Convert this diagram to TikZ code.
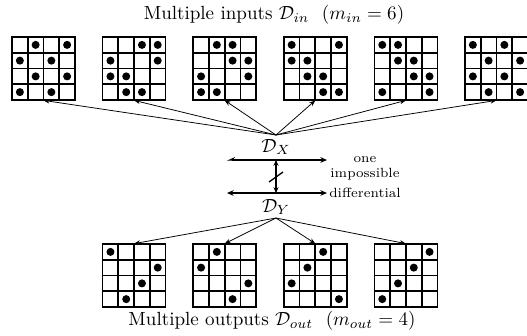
\documentclass[tikz,border=0pt]{standalone}
\usetikzlibrary{arrows.meta,calc}
\tikzset{
  gridline/.style={line width=0.9pt, line cap=rect},
  gridbox/.style={inner sep=0pt, minimum size=33.075pt},
  dotfill/.style={fill=black},
  arr/.style={line width=0.4pt, -{Stealth[length=3.2pt,width=2.4pt]}},
  hline/.style={line width=0.7pt},
  lbl/.style={inner sep=1pt},
  note/.style={font=\scriptsize, inner sep=0pt, align=center}
}
\newcommand{\mygrid}[4]{%
  \node[gridbox] (#1) at (#2+31.5,#3+31.5) {};
  \foreach \k in {0,...,4}{
    \draw[gridline] (#2+\k*15.75,#3) -- (#2+\k*15.75,#3+63);
    \draw[gridline] (#2,#3+\k*15.75) -- (#2+63,#3+\k*15.75);
  }
  \foreach \r/\c in {#4}{
    \fill[dotfill] (#2+\c*15.75-7.875,#3+\r*15.75-7.875) circle[radius=2.1pt];
  }
}
\begin{document}
\begin{tikzpicture}[x=0.525pt,y=-0.525pt]
\useasboundingbox (0,0) rectangle (527,335);
% titles
\node[lbl] (tin) at (274,15) {Multiple inputs $\mathcal{D}_{in}$\ \ $(m_{in}=6)$};
\node[lbl] (tout) at (272,321) {Multiple outputs $\mathcal{D}_{out}$\ \ $(m_{out}=4)$};
% top grids
\mygrid{t1}{12}{37}{1/2,1/4,2/1,2/3,3/2,3/4,4/1,4/3}
\mygrid{t2}{102.6}{37}{1/3,1/4,2/1,2/4,3/1,3/2,4/2,4/3}
\mygrid{t3}{193.2}{37}{1/2,1/3,2/3,2/4,3/1,3/4,4/1,4/2}
\mygrid{t4}{283.8}{37}{1/1,1/4,2/1,2/2,3/2,3/3,4/3,4/4}
\mygrid{t5}{374.4}{37}{1/1,1/2,2/2,2/3,3/3,3/4,4/1,4/4}
\mygrid{t6}{465}{37}{1/1,1/3,2/2,2/4,3/1,3/3,4/2,4/4}
% bottom grids
\mygrid{b1}{102.6}{244}{1/1,2/4,3/3,4/2}
\mygrid{b2}{193.2}{244}{1/2,2/1,3/4,4/3}
\mygrid{b3}{283.8}{244}{1/3,2/2,3/1,4/4}
\mygrid{b4}{374.4}{244}{1/4,2/3,3/2,4/1}
% middle
\node[lbl] (dx) at (276,147) {$\mathcal{D}_X$};
\node[lbl] (dy) at (276,207) {$\mathcal{D}_Y$};
\coordinate (cx) at (276,135);
\coordinate (cy) at (276,218);
\foreach \g in {t1,t2,t3,t4,t5,t6}{\draw[arr] (cx) -- (\g.south);}
\foreach \g in {b1,b2,b3,b4}{\draw[arr] (cy) -- (\g.north);}
\coordinate (l1a) at (227,160);
\coordinate (l1b) at (327,160);
\coordinate (l2a) at (227,193);
\coordinate (l2b) at (327,193);
\draw[hline, {Stealth[length=3.5pt,width=3pt]}-{Stealth[length=3.5pt,width=3pt,harpoon,swap]}] (l1b) -- (l1a);
\draw[hline, {Stealth[length=3.5pt,width=3pt]}-{Stealth[length=3.5pt,width=3pt]}] (l2a) -- (l2b);
\coordinate (v1) at (276,160);
\coordinate (v2) at (276,193);
\draw[hline, {Stealth[length=3pt,width=2.6pt]}-{Stealth[length=3pt,width=2.6pt]}] (v1) -- (v2);
\coordinate (s1) at (269,182);
\coordinate (s2) at (283,172);
\draw[hline] (s1) -- (s2);
\node[note] (n1) at (365,168) {one\\impossible};
\node[note] (n2) at (365,193) {differential};
\end{tikzpicture}
\end{document}
